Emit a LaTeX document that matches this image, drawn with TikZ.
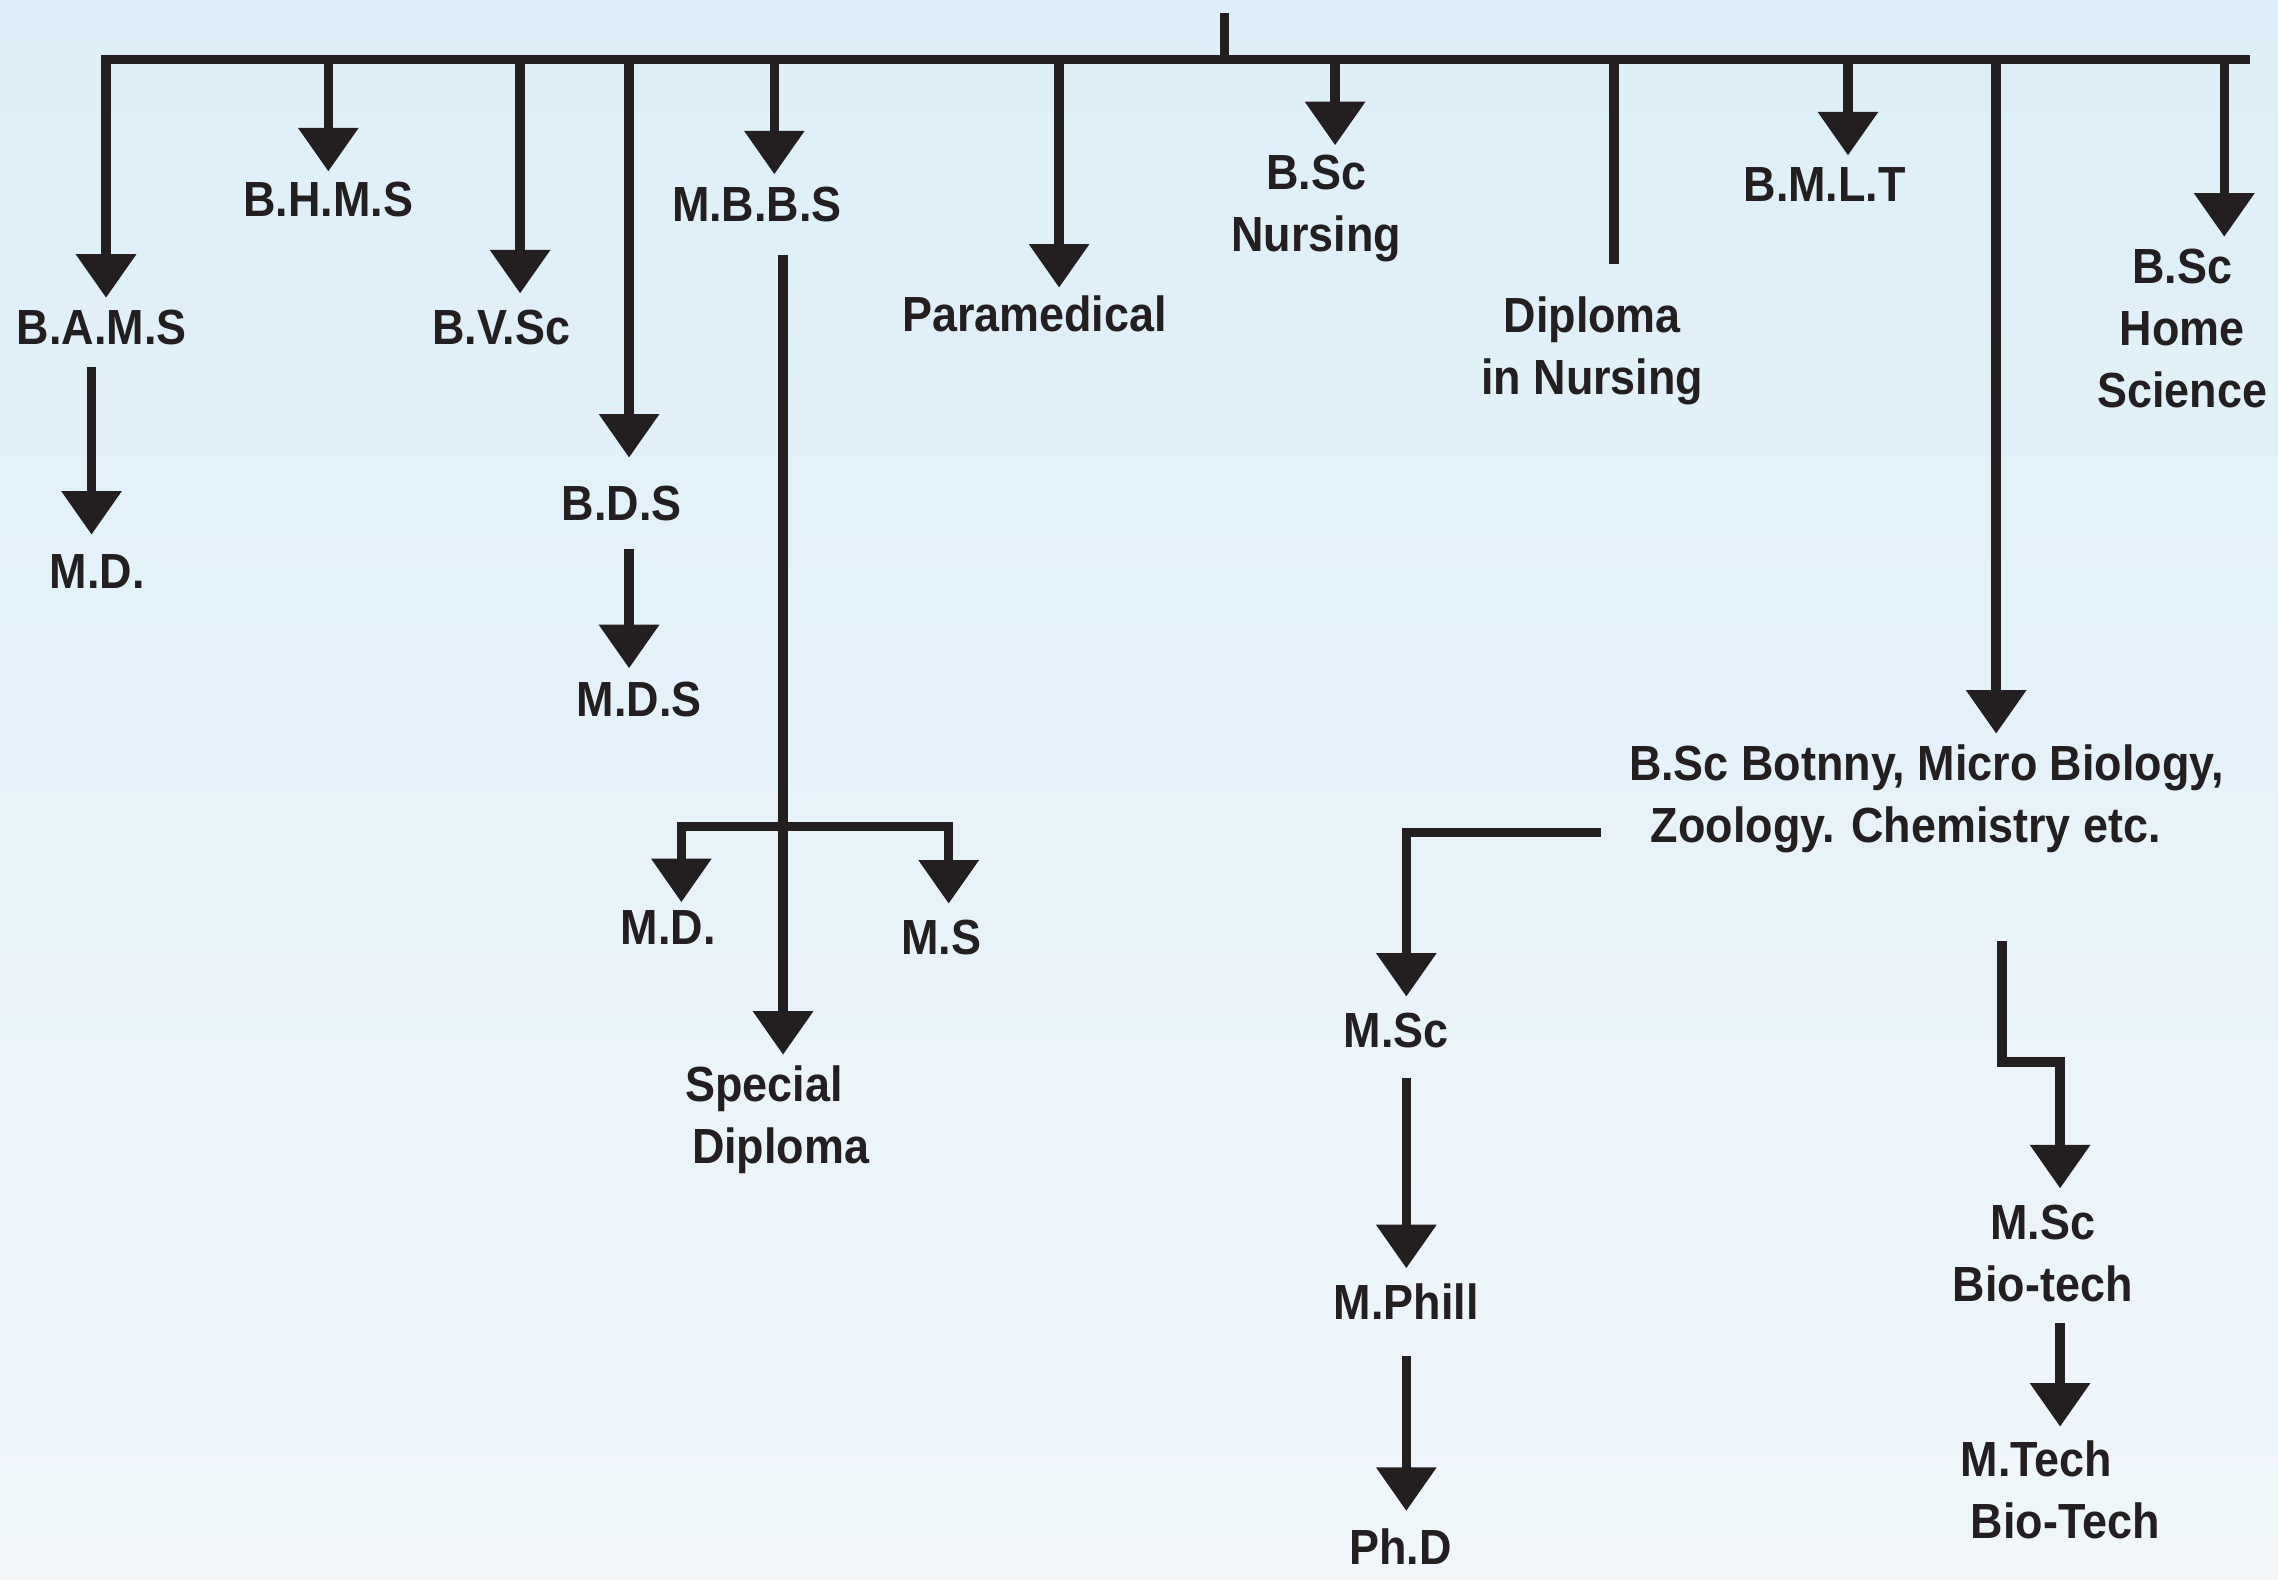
\documentclass[tikz,border=0pt]{standalone}
\usepackage{fontspec}
\setmainfont[FakeStretch=0.91]{Liberation Sans}
\usetikzlibrary{arrows.meta}
\definecolor{ink}{HTML}{231F20}
\definecolor{bgtop}{HTML}{DDEFF8}
\definecolor{bgbot}{HTML}{F0F6FA}
\begin{document}
\begin{tikzpicture}[x=0.015cm,y=-0.015cm,
  lab/.style={font=\bfseries\fontsize{14.5}{18.2}\selectfont,text=ink,inner sep=0pt,anchor=north,align=center},
  link/.style={draw=ink,line width=0.0975cm,line cap=butt,line join=miter},
  arr/.style={link,-{Triangle[width=0.6cm,length=0.45cm]}},
]
\shade[top color=bgtop,bottom color=bgbot] (0,0) rectangle (1568,1087);
\useasboundingbox (0,0) rectangle (1568,1087);

% ---------- labels ----------
\node[lab] (bams)  at (70,213)   {B.A.M.S};
\node[lab] (md1)   at (67,381)   {M.D.};
\node[lab] (bhms)  at (226,125)  {B.H.M.S};
\node[lab] (bvsc)  at (345,213)  {B.V.Sc};
\node[lab] (bds)   at (428,334)  {B.D.S};
\node[lab] (mds)   at (440,469)  {M.D.S};
\node[lab] (mbbs)  at (521,128)  {M.B.B.S};
\node[lab] (md2)   at (460,626)  {M.D.};
\node[lab] (ms)    at (648,633)  {M.S};
\node[lab,align=left] (spd) at (535,733) {Special\\\hspace*{0.07cm}Diploma};
\node[lab] (para)  at (712,203)  {Paramedical};
\node[lab] (bscn)  at (906,106)  {B.Sc\\Nursing};
\node[lab] (dipn)  at (1096,204) {Diploma\\in Nursing};
\node[lab] (bmlt)  at (1256,115) {B.M.L.T};
\node[lab,align=left] (bscb) at (1326,512) {B.Sc Botnny, Micro Biology,\\\hspace*{0.225cm}Zoology. Chemistry etc.};
\node[lab] (bsch)  at (1502,171) {B.Sc\\Home\\Science};
\node[lab] (msc)   at (961,697)  {M.Sc};
\node[lab] (mphil) at (968,883)  {M.Phill};
\node[lab] (phd)   at (964,1052) {Ph.D};
\node[lab] (mscb)  at (1406,829) {M.Sc\\Bio-tech};
\node[lab,align=left] (mtech) at (1418,991) {M.Tech\\\hspace*{0.105cm}Bio-Tech};

% ---------- junctions ----------
\coordinate (root) at (843,9);
\coordinate (hub)  at (843,41);
\coordinate (barR) at (1549,41);
\coordinate (b1)  at (73,41);
\coordinate (b2)  at (226,41);
\coordinate (b3)  at (358,41);
\coordinate (b4)  at (433,41);
\coordinate (b5)  at (533,41);
\coordinate (b6)  at (729,41);
\coordinate (b7)  at (919,41);
\coordinate (b8)  at (1111,41);
\coordinate (b9)  at (1272,41);
\coordinate (b10) at (1374,41);
\coordinate (b11) at (1531,41);
\path (md1.north) ++(-4,0) coordinate (c1);
\coordinate (m5)  at (539,569);
\coordinate (jmd) at (469,569);
\coordinate (jms) at (653,569);
\coordinate (k1)  at (1102,573);
\coordinate (k2)  at (968,573);
\coordinate (n1)  at (1378,648);
\coordinate (n2)  at (1378,731);
\coordinate (n3)  at (1418,731);

% ---------- connectors ----------
\draw[link] (root) -- (hub);
\draw[arr,shorten >=0.12cm]  (barR) -- (b1) -- (b1 |- bams.north);
\draw[arr,shorten >=0.105cm] (b2) -- (b2 |- bhms.north);
\draw[arr,shorten >=0.165cm] (b3) -- (b3 |- bvsc.north);
\draw[arr,shorten >=0.285cm] (b4) -- (b4 |- bds.north);
\draw[arr,shorten >=0.12cm]  (b5) -- (b5 |- mbbs.north);
\draw[arr,shorten >=0.075cm] (b6) -- (b6 |- para.north);
\draw[arr,shorten >=0.09cm]  (b7) -- (b7 |- bscn.north);
\draw[link,shorten >=0.33cm] (b8) -- (b8 |- dipn.north);
\draw[arr,shorten >=0.12cm]  (b9) -- (b9 |- bmlt.north);
\draw[arr,shorten >=0.105cm] (b10) -- (b10 |- bscb.north);
\draw[arr,shorten >=0.12cm]  (b11) -- (b11 |- bsch.north);

\draw[arr,shorten <=0.22cm,shorten >=0.195cm] (c1 |- bams.south) -- (c1);
\draw[arr,shorten <=0.28cm,shorten >=0.135cm] (b4 |- bds.south) -- (b4 |- mds.north);

\draw[arr,shorten <=0.34cm,shorten >=0.105cm] (m5 |- mbbs.south) -- (m5 |- spd.north);
\draw[arr,shorten >=0.075cm] (m5) -- (jmd) -- (jmd |- md2.north);
\draw[arr,shorten >=0.165cm] (m5) -- (jms) -- (jms |- ms.north);

\draw[arr,shorten >=0.165cm] (k1) -- (k2) -- (k2 |- msc.north);
\draw[arr,shorten <=0.295cm,shorten >=0.15cm] (k2 |- msc.south) -- (k2 |- mphil.north);
\draw[arr,shorten <=0.37cm,shorten >=0.18cm] (k2 |- mphil.south) -- (k2 |- phd.north);

\draw[arr,shorten >=0.165cm] (n1) -- (n2) -- (n3) -- (n3 |- mscb.north);
\draw[arr,shorten <=0.205cm,shorten >=0.135cm] (n3 |- mscb.south) -- (n3 |- mtech.north);
\end{tikzpicture}
\end{document}
